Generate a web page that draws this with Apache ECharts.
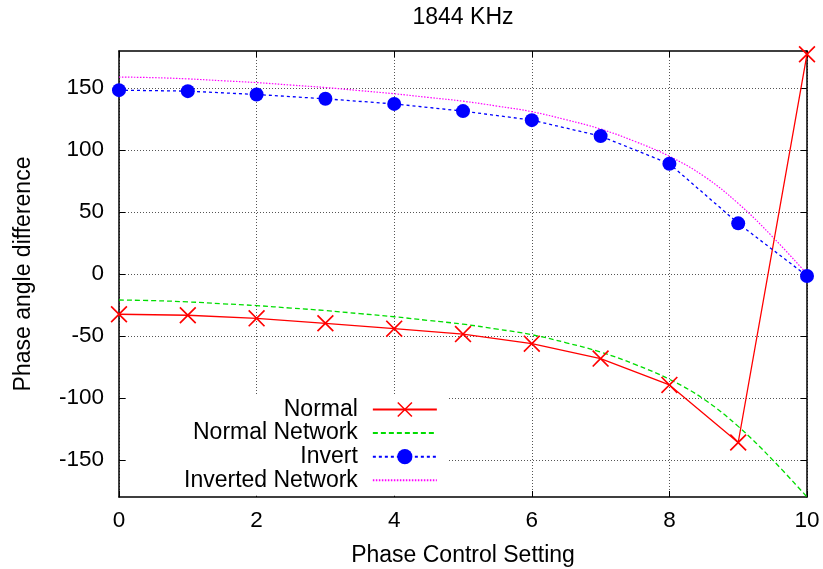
<!DOCTYPE html>
<html>
<head>
<meta charset="utf-8">
<script src="https://cdn.jsdelivr.net/npm/echarts@6/dist/echarts.min.js"></script>
<style>
  html, body { margin: 0; padding: 0; background: #fff; }
  #chart { width: 823px; height: 569px; }
</style>
</head>
<body>
<div id="chart"></div>
<script>
// measured points, one per phase control setting
var settings = [0, 1, 2, 3, 4, 5, 6, 7, 8, 9, 10];
var normal = [-32.5, -33.3, -35.8, -39.8, -44.1, -48.5, -56.2, -68.3, -89.5, -136, 177.4];
var invert = [148.4, 147.6, 144.9, 141.4, 137.3, 131.5, 124.2, 111.3, 89, 40.9, -1.6];

var fineSettings = [0, 0.5, 1, 1.5, 2, 2.5, 3, 3.5, 4, 4.5, 5, 5.5, 6, 6.5, 7, 7.5, 8, 8.5, 9, 9.5, 10];
var normalNetwork = [-21, -21.5, -22.5, -24, -25.5, -27.5, -29.5, -32, -34.5, -37.5, -40.5,
    -44.5, -49, -55.5, -63, -73, -85, -101, -123, -150, -180];
var invertedNetwork = [159, 158.5, 157.5, 156, 154.5, 152.5, 150.5, 148, 145.5, 142.5, 139.5,
    135.5, 131, 124.5, 117, 107, 95, 79, 57, 30, 0];

var xTicks = [0, 2, 4, 6, 8, 10];
var yTicks = [-150, -100, -50, 0, 50, 100, 150];

function pairs(xs, ys) {
    return xs.map(function (x, i) { return [x, ys[i]]; });
}

var font = 'Liberation Sans, Arial, Helvetica, sans-serif';
// thin "x" like gnuplot's point type 2
var crossPath = 'path://M0,0.7L0.7,0L5,4.3L9.3,0L10,0.7L5.7,5L10,9.3L9.3,10L5,5.7L0.7,10L0,9.3L4.3,5Z';

var myChart = echarts.init(document.getElementById('chart'), null, { renderer: 'canvas' });

function xAxisCfg(pos, labels) {
    return {
        type: 'value',
        position: pos,
        min: 0,
        max: 10,
        interval: 2,
        axisLine: { show: true, onZero: false, lineStyle: { color: '#000', width: 1.5 } },
        axisTick: { show: true, inside: true, length: 6, lineStyle: { color: '#000', width: 1 },
            customValues: xTicks },
        axisLabel: { show: labels, color: '#000', fontSize: 22.5, fontFamily: font, margin: 12,
            customValues: xTicks },
        splitLine: { show: labels, lineStyle: { color: '#555', type: [1, 2], width: 1 } }
    };
}

function yAxisCfg(pos, labels) {
    return {
        type: 'value',
        position: pos,
        min: -180,
        max: 180,
        interval: 50,
        axisLine: { show: true, onZero: false, lineStyle: { color: '#000', width: 1.5 } },
        axisTick: { show: true, inside: true, length: 6, lineStyle: { color: '#000', width: 1 },
            customValues: yTicks },
        axisLabel: { show: labels, color: '#000', fontSize: 22.5, fontFamily: font, margin: 15,
            customValues: yTicks },
        splitLine: { show: labels, lineStyle: { color: '#555', type: [1, 2], width: 1 } }
    };
}

var bottomX = xAxisCfg('bottom', true);
bottomX.name = 'Phase Control Setting';
bottomX.nameLocation = 'middle';
bottomX.nameGap = 47;
bottomX.nameTextStyle = { color: '#000', fontSize: 23, fontFamily: font };

var leftY = yAxisCfg('left', true);
leftY.name = 'Phase angle difference';
leftY.nameLocation = 'middle';
leftY.nameGap = 84;
leftY.nameTextStyle = { color: '#000', fontSize: 23, fontFamily: font };

var option = {
    backgroundColor: '#fff',
    animation: false,
    title: {
        text: '1844 KHz',
        left: 458,
        top: 1,
        textAlign: 'center',
        textStyle: { color: '#000', fontSize: 23, fontWeight: 'normal', fontFamily: font }
    },
    grid: {
        left: 119,
        right: 16,
        top: 51,
        bottom: 72,
        outerBoundsMode: 'none'
    },
    legend: {
        orient: 'vertical',
        left: 128,
        top: 394,
        align: 'right',
        itemWidth: 64,
        itemHeight: 19,
        itemGap: 0.6,
        padding: [4, 11, 4, 56],
        backgroundColor: '#fff',
        selectedMode: false,
        z: 10,
        textStyle: { color: '#000', fontSize: 23, lineHeight: 23, fontFamily: font,
            padding: [0, 10, 0, 0] },
        data: [
            'Normal',
            { name: 'Normal Network', itemStyle: { opacity: 0 } },
            'Invert',
            { name: 'Inverted Network', itemStyle: { opacity: 0 } }
        ]
    },
    xAxis: [bottomX, xAxisCfg('top', false)],
    yAxis: [leftY, yAxisCfg('right', false)],
    series: [
        {
            name: 'Normal',
            type: 'line',
            data: pairs(settings, normal),
            symbol: crossPath,
            symbolSize: 17,
            showAllSymbol: true,
            color: '#ff0000',
            itemStyle: { color: '#ff0000' },
            lineStyle: { color: '#ff0000', width: 1.3 },
            z: 3
        },
        {
            name: 'Normal Network',
            type: 'line',
            data: pairs(fineSettings, normalNetwork),
            smooth: 0.4,
            showSymbol: false,
            symbol: 'none',
            color: '#00dd00',
            lineStyle: { color: '#00dd00', width: 1.3, type: [5, 3] },
            z: 2
        },
        {
            name: 'Invert',
            type: 'line',
            data: pairs(settings, invert),
            symbol: 'circle',
            symbolSize: 14,
            showAllSymbol: true,
            color: '#0000ff',
            itemStyle: { color: '#0000ff' },
            lineStyle: { color: '#0000ff', width: 1.3, type: [3, 3] },
            z: 4
        },
        {
            name: 'Inverted Network',
            type: 'line',
            data: pairs(fineSettings, invertedNetwork),
            smooth: 0.4,
            showSymbol: false,
            symbol: 'none',
            color: '#ff00ff',
            lineStyle: { color: '#ff00ff', width: 1.2, type: [1.5, 1.5] },
            z: 2
        }
    ]
};

myChart.setOption(option);
</script>
</body>
</html>
